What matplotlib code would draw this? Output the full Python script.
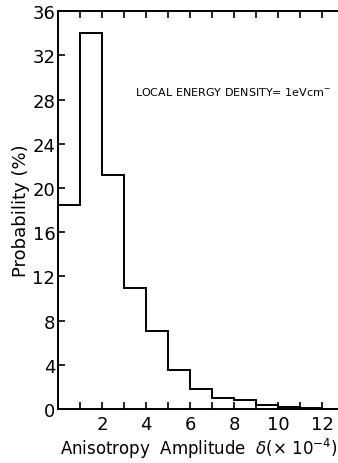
import matplotlib
matplotlib.use('Agg')
import matplotlib.pyplot as plt
import numpy as np

# bin edges (units of 1e-4) and probability per bin (%)
EDGES = [0, 1, 2, 3, 4, 5, 6, 7, 8, 9, 10, 11, 12, 13]
PROB = [18.5, 34.0, 21.2, 11.0, 7.1, 3.5, 1.8, 1.0, 0.8, 0.4, 0.2, 0.1, 0.05]
YTICKS = [0, 4, 8, 12, 16, 20, 24, 28, 32, 36]
XTICKS = [2, 4, 6, 8, 10, 12]

plt.rcParams['font.family'] = ['DejaVu Sans']

fig = plt.figure(figsize=(3.38, 4.64), dpi=100)
ax = fig.add_axes([0.172, 0.116, 0.83, 0.858])

ax.stairs(PROB, EDGES, color='black', linewidth=1.4, baseline=0)

ax.set_xlim(0, 12.75)
ax.set_ylim(0, 36)
ax.spines['right'].set_visible(False)
for s in ['left', 'top', 'bottom']:
    ax.spines[s].set_linewidth(1.4)

ax.set_yticks(YTICKS)
ax.set_xticks(XTICKS)
ax.set_xticks(np.arange(1, 13), minor=True)
ax.tick_params(axis='both', which='both', direction='in', labelsize=13,
               top=True, width=1.2)
ax.tick_params(which='major', length=5)
ax.tick_params(which='minor', length=5)
ax.tick_params(axis='y', pad=2)
ax.tick_params(axis='x', pad=4)
for lbl in ax.get_xticklabels() + ax.get_yticklabels():
    lbl.set_fontfamily('DejaVu Sans Condensed')

ax.set_ylabel('Probability (%)', fontsize=13, labelpad=2)
ax.set_xlabel(r'Anisotropy  Amplitude  $\delta$(× 10$^{-4}$)', fontsize=12, labelpad=2)

ax.text(3.5, 28.8, 'LOCAL ENERGY DENSITY= 1eVcm$^{-}$', fontsize=8,
        ha='left', va='center', family='DejaVu Sans Condensed')

fig.savefig('out.png', dpi=100)
